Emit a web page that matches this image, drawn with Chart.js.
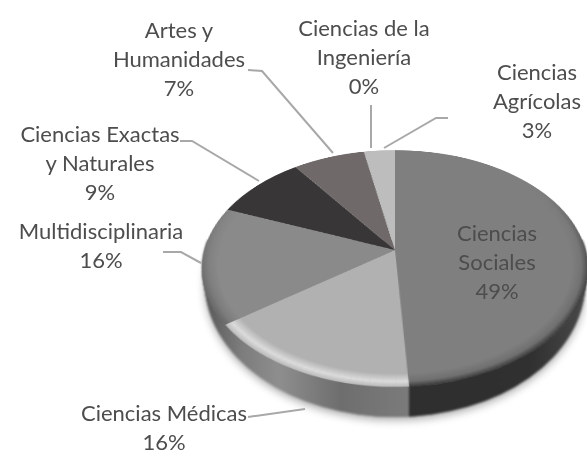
<!DOCTYPE html>
<html>
<head>
<meta charset="utf-8">
<script src="https://cdn.jsdelivr.net/npm/chart.js@4"></script>
<style>
  html, body { margin: 0; background: #fff; }
  #hoja { position: relative; width: 587px; height: 450px; overflow: hidden; }
  #lado { position: absolute; left: 0; top: 0; filter: blur(0.8px); }
  #torta { position: absolute; left: 185px; top: 40px; transform: perspective(971px) rotateX(52.7deg); filter: blur(0.7px); }
  #lineas { position: absolute; left: 0; top: 0; filter: blur(0.6px); }
  .etiqueta { position: absolute; transform: translateX(-50%); text-align: center; white-space: pre;
    font-family: Lato, sans-serif; font-size: 22px; line-height: 29px; color: #4d4d4d; filter: blur(0.7px); }
</style>
</head>
<body>
<div id="hoja">
  <canvas id="lado" width="587" height="450"></canvas>
  <canvas id="torta" width="420" height="420"></canvas>
  <svg id="lineas" width="587" height="450"></svg>
</div>
<script>
const categorias = ['Ciencias\nSociales', 'Ciencias Médicas', 'Multidisciplinaria', 'Ciencias Exactas\ny Naturales', 'Artes y\nHumanidades', 'Ciencias de la\nIngeniería', 'Ciencias\nAgrícolas'];
const valores = [49, 16, 16, 9, 7, 0, 3];
const colores = ['#7f7f7f', '#b1b1b1', '#8a8a8a', '#393637', '#6f6a69', '#888888', '#bdbdbd'];

// centro x y tope de cada etiqueta
const posEtiquetas = [[497, 218], [164, 398], [101, 216], [100, 119], [179, 15], [364, 13], [537, 57]];
const lineas = [
  null,
  '248,417 305,409',
  '163,252 181,252 201,263',
  '180,141 192,141 259,181',
  '248,70 262,71 333,153',
  '371,105 371,148',
  '448,118 436,118 384,148'
];

// borde biselado de cada porcion: [color, alfa interior, alfa medio, alfa exterior]
const biseles = [
  ['0,0,0', 0, 0.12, 0.55],
  ['255,255,255', 0, 0.55, 0.1],
  ['0,0,0', 0, 0.1, 0.25],
  ['0,0,0', 0, 0, 0],
  ['0,0,0', 0, 0, 0],
  ['0,0,0', 0, 0, 0],
  ['0,0,0', 0, 0, 0]
];

// pared lateral de la torta
const lado = document.getElementById('lado').getContext('2d');
const pared = lado.createLinearGradient(202, 0, 588, 0);
pared.addColorStop(0, '#565656');
pared.addColorStop(0.1, '#7c7c7c');
pared.addColorStop(0.2, '#8e8e8e');
pared.addColorStop(0.36, '#6e6e6e');
pared.addColorStop(0.535, '#7b7b7b');
pared.addColorStop(0.535, '#2f2f2f');
pared.addColorStop(0.85, '#303030');
pared.addColorStop(1, '#4a4a4a');

// solo la mitad de abajo, para que no asome detras de la cara superior
lado.beginPath();
lado.rect(0, 240, 587, 210);
lado.clip();

lado.save();
lado.shadowColor = 'rgba(0,0,0,0.35)';
lado.shadowBlur = 8;
lado.shadowOffsetY = 3;
lado.fillStyle = '#777';
lado.beginPath();
lado.ellipse(395, 283, 190, 134, 0, 0, Math.PI * 2);
lado.fill();
lado.restore();

// la pared se angosta hacia los costados por la perspectiva
lado.fillStyle = pared;
for (let i = 0; i <= 30; i++) {
  const t = i / 30;
  lado.beginPath();
  lado.ellipse(395, 268.5 + 14.5 * t, 193 - 3 * t, 118.5 + 15.5 * t, 0, 0, Math.PI * 2);
  lado.fill();
}

const bisel = {
  id: 'bisel',
  afterDatasetsDraw(chart) {
    const ctx = chart.ctx;
    chart.getDatasetMeta(0).data.forEach((arco, i) => {
      const b = biseles[i];
      const r = arco.outerRadius;
      const grad = ctx.createRadialGradient(arco.x, arco.y, r - 16, arco.x, arco.y, r);
      grad.addColorStop(0, `rgba(${b[0]},${b[1]})`);
      grad.addColorStop(0.6, `rgba(${b[0]},${b[2]})`);
      grad.addColorStop(1, `rgba(${b[0]},${b[3]})`);
      ctx.save();
      ctx.fillStyle = grad;
      // el bisel se nota en el frente y se apaga hacia atras
      const pasos = Math.ceil((arco.endAngle - arco.startAngle) / 0.03);
      for (let p = 0; p < pasos; p++) {
        const a0 = arco.startAngle + p * 0.03;
        const a1 = Math.min(a0 + 0.03, arco.endAngle);
        ctx.globalAlpha = Math.min(1, Math.max(0, Math.sin(a0) + 0.6));
        ctx.beginPath();
        ctx.arc(arco.x, arco.y, r, a0, a1);
        ctx.arc(arco.x, arco.y, r - 16, a1, a0, true);
        ctx.closePath();
        ctx.fill();
      }
      ctx.restore();
    });
  }
};

new Chart(document.getElementById('torta'), {
  type: 'pie',
  data: {
    labels: categorias,
    datasets: [{
      data: valores,
      backgroundColor: colores,
      borderWidth: 0
    }]
  },
  options: {
    responsive: false,
    animation: false,
    layout: { padding: 19.4 },
    plugins: {
      legend: { display: false },
      tooltip: { enabled: false }
    }
  },
  plugins: [bisel]
});

// etiquetas y lineas guia
const hoja = document.getElementById('hoja');
const svg = document.getElementById('lineas');
categorias.forEach((cat, i) => {
  const div = document.createElement('div');
  div.className = 'etiqueta';
  div.style.left = posEtiquetas[i][0] + 'px';
  div.style.top = posEtiquetas[i][1] + 'px';
  div.textContent = cat + '\n' + valores[i] + '%';
  hoja.appendChild(div);

  if (lineas[i]) {
    const linea = document.createElementNS('http://www.w3.org/2000/svg', 'polyline');
    linea.setAttribute('points', lineas[i]);
    linea.setAttribute('fill', 'none');
    linea.setAttribute('stroke', '#a8a8a8');
    linea.setAttribute('stroke-width', '2');
    svg.appendChild(linea);
  }
});
</script>
</body>
</html>
